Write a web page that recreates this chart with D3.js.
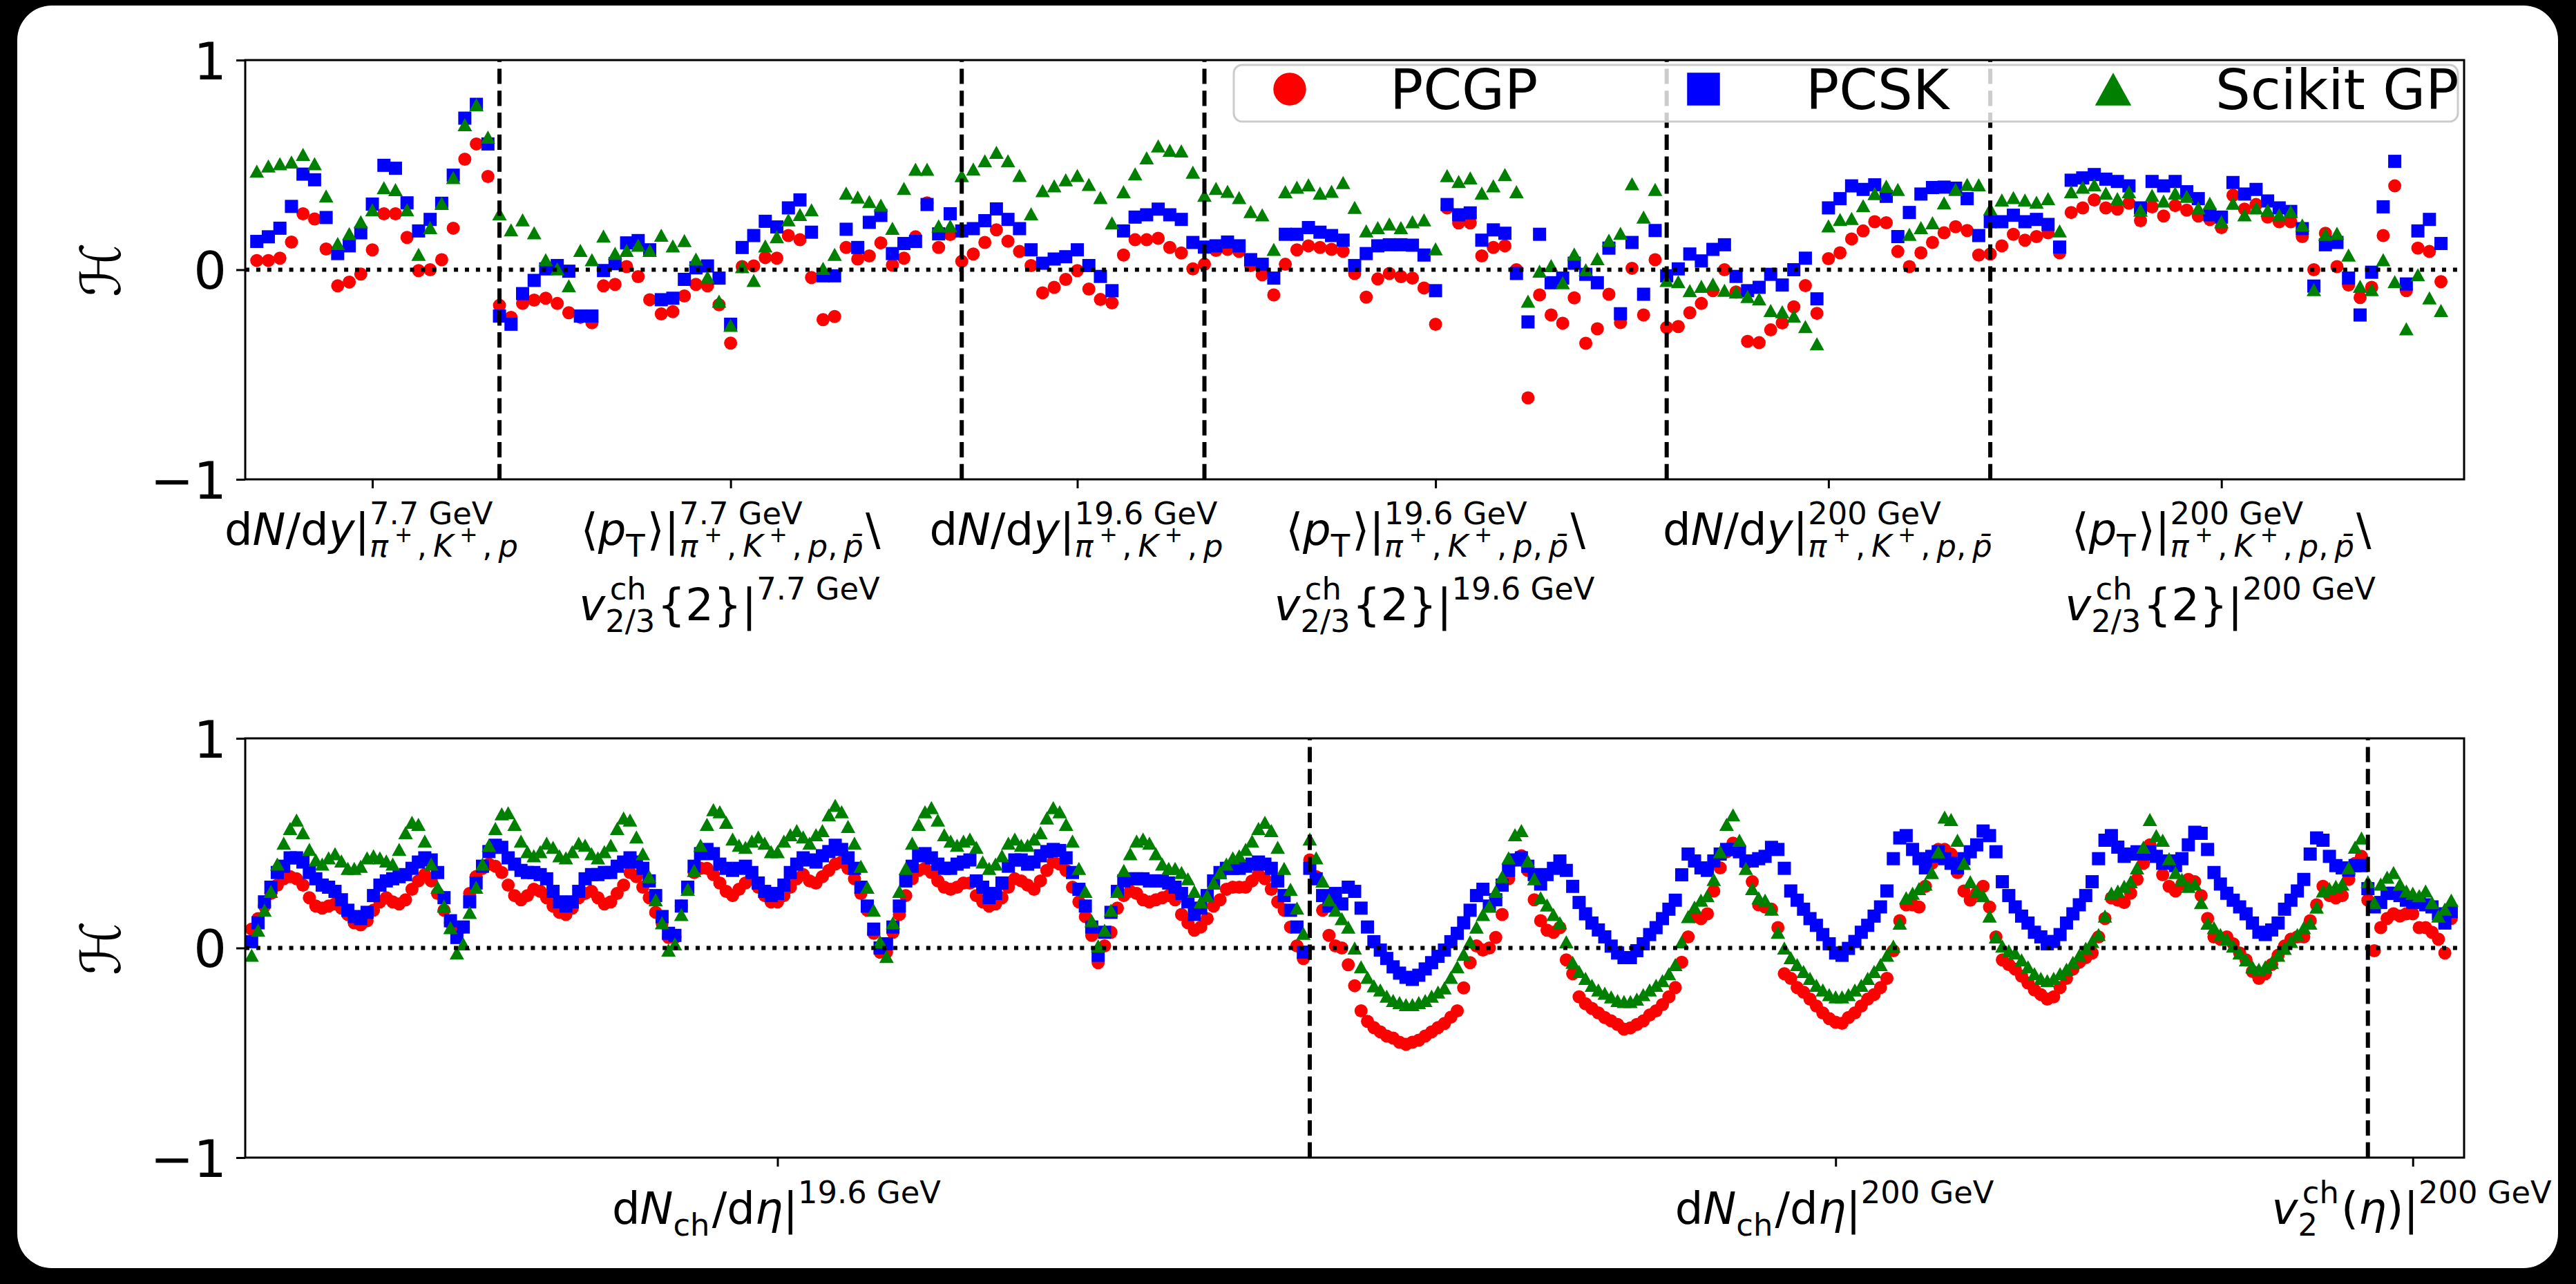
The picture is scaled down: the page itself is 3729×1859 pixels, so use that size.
<!DOCTYPE html>
<html lang="en">
<head>
<meta charset="UTF-8">
<title>Emulator comparison H</title>
<script src="https://d3js.org/d3.v7.min.js"></script>
<style>
  html, body { margin: 0; padding: 0; background: #000; }
  svg text { font-family: "DejaVu Sans", sans-serif; fill: #000; }
</style>
</head>
<body>
<div id="chart"></div>
<script>
// ---------- top panel: identified particle observables (190 points) ----------
const topPCGP = [
  0.044, 0.044, 0.055, 0.132, 0.267, 0.242, 0.099, -0.077, -0.059, -0.021, 0.095, 0.267, 0.267, 0.154, -0.004, 0.0, 0.048, 0.198, 0.527, 0.6, 0.445,
  -0.17, -0.227, -0.161, -0.145, -0.136, -0.161, -0.205, -0.227, -0.253, -0.077, -0.07, 0.015, -0.033, -0.143, -0.211, -0.2, -0.125, -0.07, -0.077, -0.167,
  -0.35, 0.015, 0.018, 0.058, 0.055, 0.163, 0.143, -0.037, -0.238, -0.223, 0.106, 0.051, 0.066, 0.128, 0.022, 0.055, 0.157, 0.319, 0.106, 0.168,
  0.04, 0.075, 0.13, 0.19, 0.136, 0.087, 0.02, -0.11, -0.084, -0.046, -0.004, -0.092, -0.142, -0.158, 0.07, 0.143, 0.143, 0.15, 0.106, 0.08, 0.004,
  0.026, 0.092, 0.097, 0.087, 0.02, -0.024, -0.12, 0.026, 0.095, 0.114, 0.106, 0.097, 0.088, -0.018, -0.131, -0.044, -0.018, -0.033, -0.04, -0.087,
  -0.26, 0.295, 0.223, 0.223, 0.066, 0.106, 0.114, 0.0, -0.611, -0.12, -0.216, -0.255, -0.134, -0.351, -0.282, -0.117, -0.252, 0.007, -0.216, 0.048,
  -0.276, -0.271, -0.205, -0.161, -0.1, 0.0, -0.106, -0.342, -0.348, -0.287, -0.254, -0.177, -0.076, -0.208, 0.053, 0.081, 0.147, 0.185, 0.229, 0.224,
  0.087, 0.015, 0.081, 0.13, 0.176, 0.205, 0.187, 0.07,
  0.075, 0.114, 0.169, 0.141, 0.158, 0.176, 0.081, 0.273, 0.295, 0.333, 0.295, 0.289, 0.317, 0.234, 0.3, 0.256, 0.306, 0.284, 0.256, 0.24,
  0.201, 0.355, 0.289, 0.311, 0.251, 0.229, 0.229, 0.158, 0.0, 0.174, 0.015, -0.073, -0.133, -0.084, 0.163, 0.4, -0.1, 0.103, 0.087, -0.057
];
const topPCSK = [
  0.135, 0.157, 0.198, 0.302, 0.456, 0.429, 0.249, 0.077, 0.114, 0.176, 0.313, 0.498, 0.484, 0.319, 0.185, 0.24, 0.317, 0.451, 0.723, 0.789, 0.6,
  -0.221, -0.26, -0.114, -0.051, 0.004, 0.02, -0.007, -0.221, -0.221, -0.004, 0.029, 0.128, 0.139, 0.095, -0.143, -0.136, -0.046, 0.009, 0.018, -0.04,
  -0.26, 0.106, 0.163, 0.231, 0.204, 0.295, 0.333, 0.179, -0.029, -0.029, 0.193, 0.106, 0.226, 0.259, 0.077, 0.125, 0.135, 0.311, 0.171, 0.267,
  0.185, 0.196, 0.234, 0.29, 0.24, 0.196, 0.095, 0.031, 0.051, 0.062, 0.095, 0.02, -0.032, -0.1, 0.185, 0.251, 0.262, 0.289, 0.262, 0.24, 0.13,
  0.108, 0.114, 0.132, 0.114, 0.048, 0.026, -0.04, 0.169, 0.169, 0.201, 0.179, 0.163, 0.141, 0.02, 0.077, 0.114, 0.119, 0.119, 0.117, 0.07,
  -0.1, 0.311, 0.262, 0.271, 0.141, 0.19, 0.174, -0.018, -0.249, 0.169, -0.062, -0.04, 0.031, -0.022, -0.062, 0.103, -0.21, 0.13, -0.117, 0.187,
  -0.029, 0.004, 0.075, 0.042, 0.097, 0.119, -0.032, -0.1, -0.084, -0.022, -0.073, 0.0, 0.055, -0.139, 0.295, 0.339, 0.4, 0.383, 0.405, 0.35,
  0.158, 0.273, 0.361, 0.392, 0.394, 0.389, 0.339, 0.163,
  0.229, 0.229, 0.26, 0.229, 0.24, 0.216, 0.108, 0.427, 0.438, 0.454, 0.432, 0.421, 0.4, 0.295, 0.421, 0.4, 0.421, 0.372, 0.339, 0.262,
  0.251, 0.416, 0.361, 0.383, 0.328, 0.295, 0.278, 0.196, -0.078, 0.119, 0.13, -0.04, -0.216, -0.012, 0.3, 0.517, -0.068, 0.185, 0.24, 0.125
];
const topSciGP = [
  0.47, 0.495, 0.506, 0.514, 0.55, 0.506, 0.352, 0.125, 0.172, 0.229, 0.286, 0.391, 0.382, 0.286, 0.073, 0.201, 0.317, 0.44, 0.692, 0.787, 0.633,
  0.267, 0.19, 0.238, 0.176, 0.048, 0.004, -0.077, 0.092, 0.048, 0.161, 0.078, 0.092, 0.117, 0.092, 0.165, 0.114, 0.139, 0.051, -0.035, -0.15,
  -0.265, 0.015, -0.051, 0.114, 0.157, 0.238, 0.264, 0.286, 0.007, 0.073, 0.366, 0.347, 0.325, 0.308, 0.198, 0.388, 0.479, 0.479, 0.209, 0.209,
  0.449, 0.48, 0.52, 0.56, 0.52, 0.45, 0.267, 0.377, 0.4, 0.429, 0.45, 0.407, 0.344, 0.223, 0.372, 0.457, 0.534, 0.591, 0.57, 0.567, 0.465,
  0.355, 0.388, 0.374, 0.344, 0.278, 0.262, 0.097, 0.372, 0.394, 0.405, 0.366, 0.374, 0.416, 0.297, 0.185, 0.201, 0.218, 0.201, 0.229, 0.238,
  0.1, 0.449, 0.421, 0.438, 0.366, 0.4, 0.454, 0.372, -0.15, -0.007, 0.02, -0.062, 0.075, 0.0, 0.053, 0.141, 0.174, 0.41, 0.251, 0.383,
  -0.051, -0.057, -0.1, -0.079, -0.068, -0.098, -0.106, -0.128, -0.139, -0.194, -0.2, -0.221, -0.271, -0.353, 0.209, 0.24, 0.245, 0.306, 0.363, 0.399,
  0.383, 0.169, 0.201, 0.224, 0.319, 0.383, 0.407, 0.405,
  0.29, 0.333, 0.344, 0.333, 0.322, 0.339, 0.185, 0.372, 0.394, 0.405, 0.366, 0.339, 0.372, 0.284, 0.355, 0.328, 0.366, 0.35, 0.295, 0.317,
  0.229, 0.317, 0.262, 0.295, 0.284, 0.262, 0.278, 0.213, -0.095, 0.169, 0.174, 0.07, -0.079, -0.095, 0.048, -0.057, -0.282, -0.024, -0.134, -0.194
];
const topBounds = [21, 61, 82, 122, 150];
const topTicks = [10, 41, 71, 102, 136, 170];
const topEnergies = ["7.7", "7.7", "19.6", "19.6", "200", "200"];

// ---------- bottom panel: dNch/deta (5 centralities x 33 eta bins per energy) + v2(eta) ----------
const botPCGP = [
  0.09, 0.14, 0.2, 0.26, 0.3, 0.33, 0.34, 0.33, 0.3, 0.24, 0.2, 0.19, 0.2, 0.21, 0.19, 0.16, 0.12, 0.11, 0.13, 0.18, 0.22, 0.24, 0.22, 0.21, 0.23, 0.28, 0.32, 0.35, 0.32, 0.26, 0.18, 0.12, 0.08,
  0.1, 0.26, 0.34, 0.38, 0.4, 0.39, 0.36, 0.3, 0.25, 0.23, 0.25, 0.28, 0.27, 0.24, 0.2, 0.17, 0.16, 0.19, 0.24, 0.26, 0.27, 0.24, 0.21, 0.22, 0.26, 0.3, 0.36, 0.34, 0.29, 0.24, 0.17, 0.12, 0.05,
  0.05, 0.2, 0.29, 0.36, 0.38, 0.38, 0.35, 0.31, 0.27, 0.25, 0.28, 0.31, 0.33, 0.29, 0.25, 0.22, 0.22, 0.25, 0.29, 0.33, 0.35, 0.32, 0.31, 0.34, 0.37, 0.4, 0.41, 0.38, 0.33, 0.26, 0.18, 0.07, -0.02,
  -0.02, 0.075, 0.16, 0.25, 0.33, 0.37, 0.38, 0.36, 0.32, 0.29, 0.28, 0.29, 0.31, 0.31, 0.25, 0.22, 0.2, 0.21, 0.24, 0.29, 0.33, 0.32, 0.3, 0.28, 0.32, 0.37, 0.41, 0.4, 0.37, 0.29, 0.22, 0.15, 0.06,
  -0.07, 0.01, 0.075, 0.19, 0.25, 0.27, 0.26, 0.23, 0.22, 0.23, 0.24, 0.25, 0.23, 0.16, 0.12, 0.085, 0.1, 0.14, 0.2, 0.23, 0.28, 0.29, 0.29, 0.29, 0.32, 0.35, 0.33, 0.28, 0.22, 0.18, 0.1, 0.01, -0.05,
  0.42, 0.34, 0.18, 0.06, 0.01, 0.0, -0.08, -0.18, -0.3, -0.35, -0.38, -0.4, -0.42, -0.43, -0.45, -0.46, -0.45, -0.44, -0.42, -0.4, -0.38, -0.36, -0.33, -0.3, -0.19, -0.07, 0.01, -0.01, 0.0, 0.05, 0.16, 0.33, 0.42,
  0.44, 0.37, 0.23, 0.13, 0.085, 0.075, 0.097, -0.057, -0.123, -0.233, -0.266, -0.288, -0.31, -0.332, -0.348, -0.365, -0.387, -0.381, -0.365, -0.348, -0.32, -0.3, -0.27, -0.233, -0.189, -0.068, 0.053, 0.15, 0.14, 0.163, 0.272, 0.382, 0.459,
  0.5, 0.48, 0.404, 0.316, 0.206, 0.195, 0.185, 0.097, -0.123, -0.145, -0.189, -0.211, -0.244, -0.277, -0.31, -0.337, -0.354, -0.359, -0.332, -0.31, -0.277, -0.244, -0.222, -0.189, -0.145, -0.013, 0.13, 0.206, 0.206, 0.195, 0.294, 0.404, 0.47,
  0.47, 0.448, 0.36, 0.272, 0.228, 0.261, 0.294, 0.195, 0.053, -0.057, -0.079, -0.101, -0.134, -0.167, -0.2, -0.222, -0.244, -0.233, -0.189, -0.145, -0.101, -0.068, -0.046, -0.024, 0.053, 0.141, 0.239, 0.228, 0.217, 0.261, 0.327, 0.404, 0.492,
  0.437, 0.349, 0.294, 0.272, 0.305, 0.327, 0.316, 0.25, 0.141, 0.053, 0.042, 0.053, 0.02, -0.024, -0.057, -0.112, -0.145, -0.123, -0.079, -0.035, 0.009, 0.042, 0.053, 0.053, 0.13, 0.206, 0.294, 0.25, 0.239, 0.25, 0.327, 0.404, 0.437,
  0.228, -0.013, 0.097, 0.141, 0.163, 0.152, 0.163, 0.163, 0.097, 0.097, 0.075, 0.042, -0.024, 0.141
];
const botPCSK = [
  0.03, 0.12, 0.22, 0.29, 0.36, 0.39, 0.43, 0.43, 0.41, 0.36, 0.33, 0.3, 0.29, 0.27, 0.23, 0.18, 0.15, 0.14, 0.17, 0.25, 0.3, 0.32, 0.33, 0.34, 0.35, 0.38, 0.41, 0.43, 0.42, 0.36, 0.24, 0.13, 0.05,
  0.1, 0.22, 0.31, 0.39, 0.46, 0.49, 0.48, 0.43, 0.4, 0.37, 0.36, 0.36, 0.35, 0.33, 0.27, 0.22, 0.2, 0.22, 0.27, 0.33, 0.35, 0.35, 0.36, 0.36, 0.39, 0.41, 0.43, 0.41, 0.38, 0.32, 0.25, 0.15, 0.07,
  0.06, 0.2, 0.29, 0.39, 0.45, 0.47, 0.45, 0.4, 0.38, 0.37, 0.38, 0.39, 0.36, 0.31, 0.27, 0.25, 0.26, 0.3, 0.36, 0.4, 0.43, 0.42, 0.41, 0.44, 0.46, 0.49, 0.47, 0.43, 0.38, 0.29, 0.2, 0.09, 0.0,
  0.02, 0.1, 0.2, 0.32, 0.39, 0.44, 0.45, 0.43, 0.4, 0.38, 0.38, 0.4, 0.41, 0.42, 0.32, 0.29, 0.24, 0.26, 0.31, 0.39, 0.42, 0.42, 0.4, 0.41, 0.44, 0.46, 0.47, 0.465, 0.43, 0.36, 0.28, 0.2, 0.1,
  -0.035, 0.075, 0.17, 0.27, 0.32, 0.33, 0.33, 0.33, 0.32, 0.32, 0.32, 0.31, 0.29, 0.26, 0.22, 0.16, 0.19, 0.25, 0.32, 0.36, 0.38, 0.38, 0.38, 0.39, 0.4, 0.41, 0.4, 0.38, 0.32, 0.25, 0.18, 0.1, -0.02,
  0.38, 0.33, 0.25, 0.2, 0.26, 0.21, 0.29, 0.27, 0.19, 0.1, 0.03, -0.01, -0.05, -0.09, -0.12, -0.14, -0.15, -0.13, -0.1, -0.07, -0.04, -0.01, 0.03, 0.07, 0.12, 0.18, 0.25, 0.28, 0.2, 0.23, 0.3, 0.37, 0.42,
  0.43, 0.39, 0.35, 0.305, 0.35, 0.38, 0.415, 0.37, 0.294, 0.217, 0.163, 0.119, 0.086, 0.053, 0.009, -0.024, -0.046, -0.046, -0.013, 0.02, 0.064, 0.097, 0.14, 0.185, 0.228, 0.349, 0.448, 0.415, 0.382, 0.37, 0.415, 0.448, 0.47,
  0.47, 0.459, 0.415, 0.415, 0.426, 0.437, 0.48, 0.47, 0.38, 0.272, 0.228, 0.185, 0.14, 0.108, 0.064, 0.02, -0.024, -0.035, -0.002, 0.031, 0.075, 0.108, 0.152, 0.196, 0.272, 0.426, 0.525, 0.536, 0.47, 0.426, 0.382, 0.437, 0.459,
  0.426, 0.404, 0.382, 0.426, 0.459, 0.492, 0.558, 0.536, 0.459, 0.316, 0.25, 0.196, 0.152, 0.119, 0.075, 0.053, 0.02, 0.031, 0.064, 0.119, 0.163, 0.206, 0.25, 0.316, 0.426, 0.514, 0.536, 0.481, 0.437, 0.448, 0.459, 0.448, 0.459,
  0.437, 0.404, 0.415, 0.393, 0.426, 0.492, 0.552, 0.547, 0.47, 0.36, 0.305, 0.261, 0.228, 0.196, 0.163, 0.119, 0.075, 0.064, 0.086, 0.119, 0.185, 0.228, 0.272, 0.327, 0.448, 0.525, 0.514, 0.437, 0.393, 0.382, 0.371, 0.393, 0.393,
  0.283, 0.196, 0.217, 0.261, 0.261, 0.25, 0.228, 0.217, 0.217, 0.206, 0.196, 0.163, 0.119, 0.174
];
const botSciGP = [
  -0.035, 0.085, 0.18, 0.27, 0.4, 0.5, 0.57, 0.61, 0.55, 0.47, 0.42, 0.4, 0.43, 0.45, 0.415, 0.38, 0.38, 0.39, 0.43, 0.44, 0.43, 0.415, 0.4, 0.47, 0.55, 0.6, 0.59, 0.51, 0.4, 0.29, 0.2, 0.097, -0.024,
  0.02, 0.17, 0.29, 0.4, 0.49, 0.57, 0.64, 0.645, 0.59, 0.51, 0.46, 0.44, 0.46, 0.5, 0.48, 0.44, 0.43, 0.46, 0.5, 0.49, 0.45, 0.43, 0.46, 0.49, 0.57, 0.62, 0.61, 0.53, 0.45, 0.34, 0.23, 0.12, -0.01,
  0.02, 0.16, 0.28, 0.37, 0.49, 0.59, 0.66, 0.65, 0.6, 0.52, 0.49, 0.48, 0.51, 0.53, 0.5, 0.46, 0.46, 0.51, 0.54, 0.56, 0.53, 0.5, 0.54, 0.56, 0.635, 0.68, 0.65, 0.58, 0.5, 0.39, 0.29, 0.18, 0.03,
  -0.04, 0.12, 0.27, 0.38, 0.5, 0.59, 0.65, 0.67, 0.61, 0.54, 0.51, 0.49, 0.51, 0.52, 0.48, 0.41, 0.38, 0.4, 0.44, 0.5, 0.52, 0.49, 0.49, 0.52, 0.55, 0.62, 0.67, 0.65, 0.59, 0.51, 0.38, 0.27, 0.13,
  0.01, 0.085, 0.18, 0.27, 0.37, 0.45, 0.51, 0.52, 0.5, 0.45, 0.4, 0.38, 0.38, 0.36, 0.33, 0.27, 0.22, 0.25, 0.31, 0.36, 0.4, 0.43, 0.44, 0.47, 0.51, 0.57, 0.6, 0.56, 0.48, 0.38, 0.28, 0.19, 0.07,
  0.52, 0.43, 0.32, 0.23, 0.18, 0.14, 0.1, 0.0, -0.09, -0.14, -0.18, -0.2, -0.23, -0.25, -0.26, -0.27, -0.27, -0.26, -0.25, -0.23, -0.21, -0.19, -0.14, -0.09, -0.03, 0.03, 0.1, 0.16, 0.2, 0.27, 0.34, 0.43, 0.54,
  0.56, 0.415, 0.33, 0.24, 0.205, 0.16, 0.12, 0.03, -0.068, -0.112, -0.145, -0.178, -0.2, -0.216, -0.233, -0.25, -0.255, -0.255, -0.244, -0.222, -0.2, -0.178, -0.156, -0.123, -0.079, 0.03, 0.15, 0.195, 0.228, 0.25, 0.327, 0.459, 0.59,
  0.635, 0.514, 0.38, 0.283, 0.24, 0.228, 0.185, 0.075, 0.0, -0.046, -0.079, -0.112, -0.145, -0.178, -0.2, -0.222, -0.233, -0.233, -0.222, -0.2, -0.178, -0.145, -0.112, -0.079, -0.035, 0.009, 0.119, 0.24, 0.261, 0.283, 0.305, 0.36, 0.459,
  0.624, 0.613, 0.514, 0.404, 0.316, 0.272, 0.25, 0.152, 0.053, 0.009, -0.013, -0.024, -0.057, -0.09, -0.123, -0.145, -0.156, -0.145, -0.123, -0.101, -0.068, -0.035, -0.002, 0.031, 0.064, 0.152, 0.261, 0.272, 0.294, 0.316, 0.382, 0.481, 0.613,
  0.536, 0.514, 0.426, 0.36, 0.327, 0.294, 0.305, 0.217, 0.119, 0.097, 0.064, 0.042, 0.009, -0.024, -0.057, -0.09, -0.101, -0.09, -0.068, -0.035, -0.002, 0.031, 0.064, 0.097, 0.119, 0.195, 0.272, 0.283, 0.294, 0.305, 0.382, 0.481, 0.525,
  0.316, 0.217, 0.305, 0.338, 0.36, 0.305, 0.272, 0.261, 0.25, 0.272, 0.217, 0.152, 0.185, 0.228
];
const botBounds = [165, 330];
const botTicks = [82, 247, 337];

const seriesNames = ["PCGP", "PCSK", "Scikit GP"];
const seriesColors = ["#ff0000", "#0000ff", "#008000"];

// ---------- tick label pieces (mathtext-like) ----------
function piK(withBar) {
  const s = [{i: "π"}, {sup: ["+"]}, ",", {i: "K"}, {sup: ["+"]}, ",", {i: "p"}];
  return withBar ? s.concat([",", {i: "p\u0304"}]) : s;
}
function dndyLabel(e, bar) { return [["d", {i: "N"}, "/d", {i: "y"}, "|", {sup: [e + " GeV"], sub: piK(bar)}]]; }
function ptLabel(e) {
  return [["⟨", {i: "p"}, {sub: ["T"]}, "⟩", "|", {sup: [e + " GeV"], sub: piK(true)}, "\\"],
          [{i: "v"}, {sup: ["ch"], sub: ["2/3"]}, "{2}", "|", {sup: [e + " GeV"]}]];
}
const topTickLabels = [
  dndyLabel(topEnergies[0], false), ptLabel(topEnergies[1]),
  dndyLabel(topEnergies[2], false), ptLabel(topEnergies[3]),
  dndyLabel(topEnergies[4], true), ptLabel(topEnergies[5])
];
const botTickLabels = [
  [["d", {i: "N"}, {sub: ["ch"]}, "/d", {i: "η"}, "|", {sup: ["19.6 GeV"]}]],
  [["d", {i: "N"}, {sub: ["ch"]}, "/d", {i: "η"}, "|", {sup: ["200 GeV"]}]],
  [[{i: "v"}, {sup: ["ch"], sub: ["2"]}, "(", {i: "η"}, ")", "|", {sup: ["200 GeV"]}]]
];

// ---------- drawing ----------
const W = 3729, H = 1859;
const X0 = 355, X1 = 3567;
const LABEL_SIZE = 64;
const svg = d3.select("#chart").append("svg").attr("width", W).attr("height", H);
svg.append("rect").attr("x", 25).attr("y", 8).attr("width", 3678).attr("height", 1828)
  .attr("rx", 50).attr("fill", "#fff");

// lay out pieces as tspans of one text element, returns end x
function place(txt, items, x, y, size, depth) {
  let prevItalic = false;
  items.forEach(it => {
    if (typeof it === "string" || it.i !== undefined) {
      const s = typeof it === "string" ? it : it.i;
      const pad = (s === "+" && depth > 1) ? size * 0.14 : 0;
      const t = txt.append("tspan").attr("x", x + pad).attr("y", y)
        .style("font-size", size + "px")
        .style("font-style", typeof it === "string" ? "normal" : "italic")
        .text(s);
      x += t.node().getComputedTextLength() + 2 * pad;
      if (s === ",") x += size * 0.2;
      prevItalic = typeof it !== "string";
    } else {
      let w = 0;
      const slant = prevItalic ? size * 0.1 : 0;
      if (it.sup) w = Math.max(w, place(txt, it.sup, x + slant, y - size * 0.47, size * 0.7, depth + 1) - x);
      if (it.sub) w = Math.max(w, place(txt, it.sub, x, y + size * 0.27, size * 0.7, depth + 1) - x);
      x += w + size * 0.05;
      prevItalic = false;
    }
  });
  return x;
}
function mathLabel(parent, lines, cx, baseline, size, lineGap) {
  lines.forEach((ln, k) => {
    const txt = parent.append("text");
    const w = place(txt, ln, 0, baseline + k * lineGap, size, 0);
    txt.attr("transform", `translate(${cx - w / 2},0)`);
  });
}

function marker(sel, kind, color) {
  const r = 9.5;
  if (kind === 0) {
    sel.append("circle").attr("r", r).attr("fill", color);
  } else if (kind === 1) {
    sel.append("rect").attr("x", -r).attr("y", -r).attr("width", 2 * r).attr("height", 2 * r).attr("fill", color);
  } else {
    sel.append("path").attr("d", `M0,${-r}L${r + 1},${r}L${-r - 1},${r}Z`).attr("fill", color);
  }
}

function drawPanel(cfg) {
  const x = d3.scaleLinear().domain(cfg.xDomain).range([X0, X1]);
  const y = d3.scaleLinear().domain([-1, 1]).range([cfg.bottom, cfg.top]);
  const g = svg.append("g");

  // data
  cfg.series.forEach((vals, s) => {
    const pts = g.append("g").selectAll("g").data(vals).join("g")
      .attr("transform", (d, i) => `translate(${x(i)},${y(d)})`);
    marker(pts, s, seriesColors[s]);
  });

  // zero reference and block separators
  g.append("line").attr("x1", X0).attr("x2", X1).attr("y1", y(0)).attr("y2", y(0))
    .attr("stroke", "#000").attr("stroke-width", 6).attr("stroke-dasharray", "6,9.9");
  cfg.bounds.forEach(b => {
    g.append("line").attr("x1", x(b)).attr("x2", x(b)).attr("y1", y(-1)).attr("y2", y(1))
      .attr("stroke", "#000").attr("stroke-width", 6).attr("stroke-dasharray", "22.2,9.6");
  });

  // axes
  const yAxis = g.append("g").attr("transform", `translate(${X0},0)`)
    .call(d3.axisLeft(y).tickValues([-1, 0, 1]).tickSize(13).tickPadding(14).tickFormat(d3.format("d")));
  yAxis.select(".domain").remove();
  yAxis.selectAll(".tick line").attr("stroke-width", 3);
  yAxis.selectAll(".tick text").attr("font-size", 75).attr("font-family", "DejaVu Sans").attr("dy", "0.36em");

  const xAxis = g.append("g").attr("transform", `translate(0,${cfg.bottom})`)
    .call(d3.axisBottom(x).tickValues(cfg.ticks).tickSize(13).tickFormat(""));
  xAxis.select(".domain").remove();
  xAxis.selectAll(".tick line").attr("stroke-width", 3);

  g.append("rect").attr("x", X0).attr("y", cfg.top).attr("width", X1 - X0).attr("height", cfg.bottom - cfg.top)
    .attr("fill", "none").attr("stroke", "#000").attr("stroke-width", 3);

  // y label
  g.append("text").attr("transform", `translate(146,${y(0)}) rotate(-90)`)
    .attr("text-anchor", "middle").attr("dominant-baseline", "central")
    .style("font-size", "80px").style("font-style", "italic").text("ℋ");

  // tick labels
  cfg.ticks.forEach((t, k) => {
    mathLabel(g, cfg.labels[k], x(t), cfg.labelBase, LABEL_SIZE, 109);
  });
  return {x, y, g};
}

drawPanel({
  xDomain: [-1, 191], top: 87, bottom: 694,
  series: [topPCGP, topPCSK, topSciGP],
  bounds: topBounds, ticks: topTicks, labels: topTickLabels, labelBase: 789
});
drawPanel({
  xDomain: [-1, 345], top: 1069, bottom: 1676,
  series: [botPCGP, botPCSK, botSciGP],
  bounds: botBounds, ticks: botTicks, labels: botTickLabels, labelBase: 1772
});

// legend
const leg = svg.append("g");
leg.append("rect").attr("x", 1786).attr("y", 94).attr("width", 1772).attr("height", 82).attr("rx", 12)
  .attr("fill", "#fff").attr("fill-opacity", 0.8).attr("stroke", "#cccccc").attr("stroke-width", 3);
const legMarkX = [1867, 2466, 3059], legTextX = [2012, 2614, 3207];
seriesNames.forEach((name, s) => {
  const m = leg.append("g").attr("transform", `translate(${legMarkX[s]},129) scale(2.5)`);
  marker(m, s, seriesColors[s]);
  leg.append("text").attr("x", legTextX[s]).attr("y", 158).style("font-size", "80px").text(name);
});
</script>
</body>
</html>
